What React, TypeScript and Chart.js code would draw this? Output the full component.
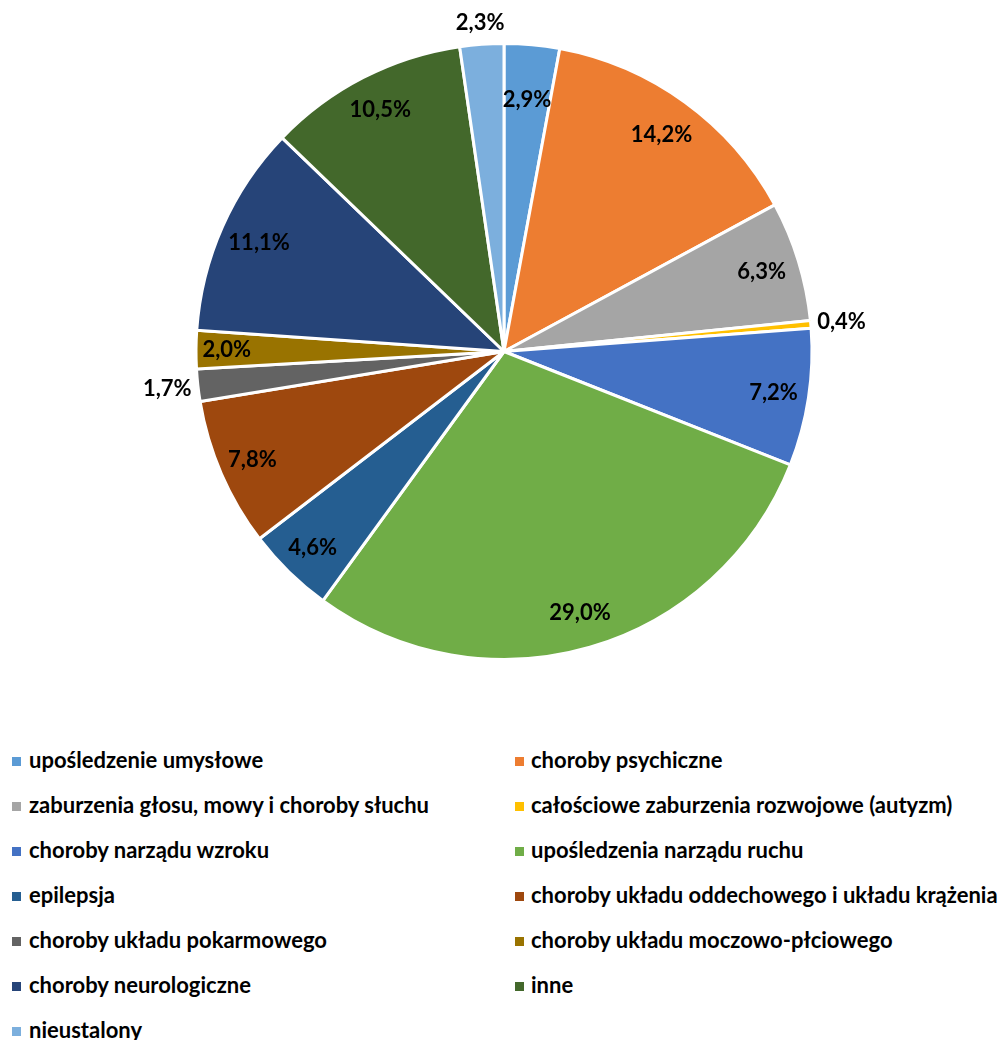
import React, { useEffect, useRef } from "react";
import { Chart, registerables } from "chart.js";

Chart.register(...registerables);

const categories: string[] = [
  "upośledzenie umysłowe",
  "choroby psychiczne",
  "zaburzenia głosu, mowy i choroby słuchu",
  "całościowe zaburzenia rozwojowe (autyzm)",
  "choroby narządu wzroku",
  "upośledzenia narządu ruchu",
  "epilepsja",
  "choroby układu oddechowego i układu krążenia",
  "choroby układu pokarmowego",
  "choroby układu moczowo-płciowego",
  "choroby neurologiczne",
  "inne",
  "nieustalony",
];

const values: number[] = [2.9, 14.2, 6.3, 0.4, 7.2, 29.0, 4.6, 7.8, 1.7, 2.0, 11.1, 10.5, 2.3];

const colors: string[] = [
  "#5B9BD5",
  "#ED7D31",
  "#A5A5A5",
  "#FFC000",
  "#4472C4",
  "#70AD47",
  "#255E91",
  "#9E480E",
  "#636363",
  "#997300",
  "#264478",
  "#43682B",
  "#7CAFDD",
];

// radial position of each percentage label, as a fraction of the radius
const labelRadius: number[] = [0.82, 0.87, 0.875, 1.1, 0.885, 0.885, 0.89, 0.89, 1.1, 0.9, 0.87, 0.88, 1.07];

const FONT = "Lato, 'Open Sans', sans-serif";

const fmt = (v: number) => v.toFixed(1).replace(".", ",") + "%";

const labelPlugin = {
  id: "sliceLabels",
  afterDatasetsDraw(chart: any) {
    const ctx = chart.ctx;
    const meta = chart.getDatasetMeta(0);
    ctx.save();
    ctx.font = `bold 22px ${FONT}`;
    ctx.fillStyle = "#000";
    ctx.textAlign = "center";
    ctx.textBaseline = "middle";
    meta.data.forEach((arc: any, i: number) => {
      const p = arc.getProps(["startAngle", "endAngle", "outerRadius", "x", "y"], true);
      const mid = (p.startAngle + p.endAngle) / 2;
      const d = p.outerRadius * labelRadius[i];
      const x = p.x + Math.cos(mid) * d;
      const y = p.y + Math.sin(mid) * d;
      ctx.fillText(fmt(values[i]), x, y);
    });
    ctx.restore();
  },
};

export default function App() {
  const canvasRef = useRef<HTMLCanvasElement | null>(null);

  useEffect(() => {
    if (!canvasRef.current) return;
    const chart = new Chart(canvasRef.current, {
      type: "pie",
      data: {
        labels: categories,
        datasets: [
          {
            data: values,
            backgroundColor: colors,
            borderColor: "#ffffff",
            borderWidth: 3,
          },
        ],
      },
      options: {
        animation: false,
        responsive: false,
        devicePixelRatio: 1,
        layout: { padding: { top: 34, bottom: 47, left: 0, right: 0 } },
        plugins: {
          legend: { display: false },
          tooltip: { enabled: false },
        },
      },
      plugins: [labelPlugin],
    });
    return () => chart.destroy();
  }, []);

  const rowH = 45;
  const firstCenter = 753; // relative to wrapper

  return (
    <div style={{ position: "relative", width: 992, height: 1032, overflow: "hidden", fontFamily: FONT }}>
      <canvas ref={canvasRef} width={992} height={700} style={{ position: "absolute", left: 0, top: 0 }} />
      {categories.map((c, i) => {
        const col = i % 2;
        const row = Math.floor(i / 2);
        const cy = firstCenter + row * rowH;
        const markerLeft = col === 0 ? 4 : 507;
        const textLeft = col === 0 ? 21 : 523;
        return (
          <React.Fragment key={c}>
            <div
              style={{
                position: "absolute",
                left: markerLeft,
                top: cy - 4.5,
                width: 9,
                height: 9,
                background: colors[i],
              }}
            />
            <div
              style={{
                position: "absolute",
                left: textLeft,
                top: cy - 16,
                height: 30,
                lineHeight: "30px",
                fontSize: 22,
                fontWeight: 700,
                color: "#000",
                whiteSpace: "nowrap",
              }}
            >
              {c}
            </div>
          </React.Fragment>
        );
      })}
    </div>
  );
}
